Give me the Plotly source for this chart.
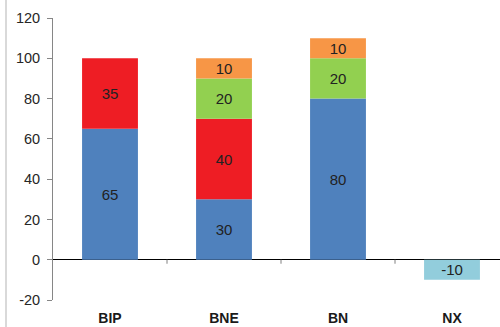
import plotly.graph_objects as go

categories = ["BIP", "BNE", "BN", "NX"]
blue_vals = [65, 30, 80, None]
red_vals = [35, 40, None, None]
green_vals = [None, 20, 20, None]
orange_vals = [None, 10, 10, None]
nx_vals = [None, None, None, -10]
y_ticks = [-20, 0, 20, 40, 60, 80, 100, 120]

series = [
    (blue_vals, "#4f81bd"),
    (red_vals, "#ee1d24"),
    (green_vals, "#92d050"),
    (orange_vals, "#f79646"),
    (nx_vals, "#92cddc"),
]

xs = list(range(len(categories)))
fig = go.Figure()
for vals, color in series:
    fig.add_trace(go.Bar(
        x=xs, y=vals, width=0.49,
        marker=dict(color=color, line=dict(width=0)),
        text=[("" if v is None else str(v)) for v in vals],
        textposition="inside", insidetextanchor="middle", textangle=0,
        textfont=dict(family="Liberation Sans, Arial", size=15, color="#222222"),
        constraintext="none",
        hoverinfo="skip",
    ))

W, H = 500, 327
ml, mr, mt, mb = 53, 0, 18, 27
pw = W - ml - mr
ph = H - mt - mb

shapes = []
for b in [0.5, 1.5, 2.5]:
    shapes.append(dict(type="line", xref="x", yref="y", x0=b, x1=b, y0=0, y1=-2,
                       line=dict(color="#808080", width=1)))
# left page border
bx = (6 - ml) / pw
shapes.append(dict(type="line", xref="paper", yref="paper", x0=bx, x1=bx,
                   y0=-mb / ph, y1=1 + mt / ph, line=dict(color="#d9d9d9", width=2)))

fig.update_layout(
    width=W, height=H,
    margin=dict(l=ml, r=mr, t=mt, b=mb, pad=0),
    barmode="relative",
    showlegend=False,
    plot_bgcolor="white", paper_bgcolor="white",
    font=dict(family="Liberation Sans, Arial", color="#262626"),
    shapes=shapes,
    xaxis=dict(
        range=[-0.5, -0.5 + pw / 114.0],
        tickvals=xs, ticktext=categories,
        tickfont=dict(size=14, color="#1a1a1a", family="Liberation Sans, Arial", weight="bold"),
        showline=False, showgrid=False, zeroline=False, ticks="",
        ticklabelstandoff=8,
    ),
    yaxis=dict(
        range=[-20, 120],
        tickvals=y_ticks, ticktext=[str(v) for v in y_ticks],
        tickfont=dict(size=14.5, color="#262626"),
        showline=True, linecolor="#868686", linewidth=1,
        ticks="outside", ticklen=5, tickcolor="#868686",
        showgrid=False,
        zeroline=True, zerolinecolor="#000000", zerolinewidth=1,
        ticklabelstandoff=4,
    ),
)

fig.write_html("out.html")
